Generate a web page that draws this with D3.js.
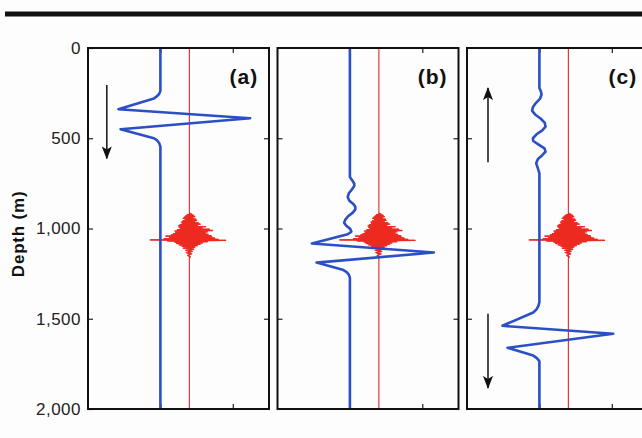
<!DOCTYPE html>
<html>
<head>
<meta charset="utf-8">
<script src="https://cdn.jsdelivr.net/npm/d3@7"></script>
<style>
body { margin: 0; background: #fff; }
svg { display: block; font-family: "Liberation Sans", Arial, Helvetica, sans-serif; }
</style>
</head>
<body>
<svg id="chart" width="642" height="438"></svg>
<script>
// ============================== DATA ==============================
const panelLabels = ["(a)", "(b)", "(c)"];
const depthTicks = [0, 500, 1000, 1500, 2000];
const ampTicks = [2, 4];

// trace offsets (amplitude units)
const blueBase = 2;
const redBase = 2.8;

// blue traces: [depth (m), amplitude]
const blueA = [[0,0],[238,0],[256,-0.04],[268,-0.1],[280,-0.18],[339,-1.16],[389,2.48],[450,-1.1],
  [500,-0.18],[512,-0.09],[528,-0.03],[548,0],[2000,0]];

const blueB = [[0,0],[715,0],[738,0.08],[752,0.12],[765,0.12],[785,0.05],[805,-0.03],[826,-0.06],
  [845,-0.02],[866,0.1],[880,0.15],[894,0.15],[912,0.08],[932,-0.05],[952,-0.13],[968,-0.16],
  [985,-0.1],[1002,0.01],[1018,0.04],[1032,-0.06],[1083,-1.05],[1133,2.32],[1189,-0.92],
  [1228,-0.2],[1242,-0.09],[1256,-0.03],[1272,0],[2000,0]];

const blueC = [[0,0],[222,0],[240,0.04],[258,0.06],[280,0.02],[305,-0.1],[328,-0.18],[348,-0.2],
  [368,-0.12],[392,0.04],[415,0.15],[436,0.17],[456,0.08],[478,-0.08],[500,-0.18],[515,-0.17],
  [535,-0.02],[556,0.14],[574,0.17],[594,0.08],[615,-0.04],[638,-0.09],[662,-0.05],[695,0],
  [1408,0],[1430,-0.03],[1448,-0.08],[1465,-0.17],[1539,-1.02],[1583,2.04],[1661,-0.88],
  [1704,-0.17],[1718,-0.07],[1735,0],[2000,0]];

const blueTraces = [blueA, blueB, blueC];

// red trace: high frequency burst around 1,000 m (same in every panel)
const redBurst = [[915,0],[920,0.05],[923,-0.06],[927,0.12],[930,-0.1],[934,0.15],[937,-0.14],
  [941,0.1],[944,-0.17],[948,0.18],[951,-0.12],[955,0.2],[958,-0.18],[962,0.15],[965,-0.22],
  [969,0.25],[972,-0.2],[976,0.3],[979,-0.26],[983,0.22],[986,-0.3],[990,0.45],[993,-0.28],
  [997,0.35],[1000,-0.25],[1004,0.55],[1007,-0.33],[1011,0.64],[1014,-0.4],[1018,0.5],
  [1021,-0.38],[1025,0.45],[1028,-0.44],[1032,0.52],[1035,-0.5],[1039,0.6],[1042,-0.65],
  [1046,0.62],[1049,-0.55],[1053,0.7],[1056,-0.7],[1060,0.8],[1063,-1.08],[1066,1.0],
  [1069,-0.6],[1073,0.5],[1076,-0.4],[1080,0.36],[1083,-0.35],[1087,0.3],[1091,-0.28],
  [1095,0.22],[1099,-0.2],[1104,0.15],[1109,-0.17],[1115,0.12],[1121,-0.1],[1127,0.08],
  [1134,-0.07],[1141,0.05],[1149,-0.04],[1157,0.02],[1165,0]];
const redTrace = [[0,0]].concat(redBurst, [[2000,0]]);

// direction arrows: panel index, amplitude position, depth from -> to
const arrows = [
  { panel: 0, amp: 0.52, from: 205, to: 612 },
  { panel: 2, amp: 0.58, from: 633, to: 222 },
  { panel: 2, amp: 0.58, from: 1472, to: 1883 }
];
// ==================================================================

var svg = d3.select("#chart");
var plotTop = 48, plotBottom = 409;
var panelW = 181, firstLeft = 88, step = 189.5;

svg.append("rect").attr("width", 642).attr("height", 438).attr("fill", "#fdfdfd");

// heavy rule at the top of the page
svg.append("line")
  .attr("x1", 5).attr("x2", 642).attr("y1", 14).attr("y2", 14)
  .attr("stroke", "#111").attr("stroke-width", 5);

svg.append("defs").append("marker")
  .attr("id", "head")
  .attr("viewBox", "0 0 13 10")
  .attr("refX", 12).attr("refY", 5)
  .attr("markerWidth", 13).attr("markerHeight", 10)
  .attr("markerUnits", "userSpaceOnUse")
  .attr("orient", "auto")
  .append("path").attr("d", "M0,0 L13,5 L0,10 L3,5 Z").attr("fill", "#111");

const ys = d3.scaleLinear().domain([0, 2000]).range([plotTop, plotBottom]);

function panelScale(i) {
  var left = firstLeft + i * step;
  return d3.scaleLinear().domain([0, 5]).range([left, left + panelW]);
}

panelLabels.forEach(function(label, i) {
  var xs = panelScale(i);
  var left = xs.range()[0], right = xs.range()[1];
  var g = svg.append("g");

  // ---------- ticks ----------
  var yl = d3.axisLeft(ys).tickValues(i === 0 ? depthTicks : depthTicks.slice(1, 4))
    .tickSize(-5).tickPadding(7).tickFormat(i === 0 ? d3.format(",") : "");
  g.append("g").attr("transform", "translate(" + left + ",0)").call(yl);
  g.append("g").attr("transform", "translate(" + right + ",0)")
    .call(d3.axisRight(ys).tickValues(depthTicks.slice(1, 4)).tickSize(-5).tickFormat(""));
  g.append("g").attr("transform", "translate(0," + plotTop + ")")
    .call(d3.axisTop(xs).tickValues(ampTicks).tickSize(-5).tickFormat(""));
  g.append("g").attr("transform", "translate(0," + plotBottom + ")")
    .call(d3.axisBottom(xs).tickValues(ampTicks).tickSize(-5).tickFormat(""));
  g.selectAll(".domain").remove();
  g.selectAll(".tick line").attr("stroke", "#222").attr("stroke-width", 1.2);
  g.selectAll(".tick text").attr("font-size", 17).attr("letter-spacing", 0.5)
    .attr("fill", "#222").attr("font-family", "Liberation Sans, Arial, sans-serif");

  // ---------- traces ----------
  g.append("path").datum(redTrace)
    .attr("fill", "none").attr("stroke", "#e2262a").attr("stroke-width", 1.1)
    .attr("d", d3.line().x(d => xs(d[1] + redBase)).y(d => ys(d[0])));
  // heavier redraw of the burst itself
  g.append("path").datum(redBurst)
    .attr("fill", "none").attr("stroke", "#ec2a1f").attr("stroke-width", 1.3)
    .attr("stroke-linejoin", "round")
    .attr("d", d3.line().x(d => xs(d[1] + redBase)).y(d => ys(d[0])));

  g.append("path").datum(blueTraces[i])
    .attr("fill", "none").attr("stroke", "#2b4fc4").attr("stroke-width", 2.6)
    .attr("stroke-linejoin", "round")
    .attr("d", d3.line().x(d => xs(d[1] + blueBase)).y(d => ys(d[0])));

  // ---------- frame ----------
  g.append("rect")
    .attr("x", left).attr("y", plotTop).attr("width", panelW).attr("height", plotBottom - plotTop)
    .attr("fill", "none").attr("stroke", "#111").attr("stroke-width", 2);

  // ---------- panel label ----------
  g.append("text")
    .attr("x", xs(4.7)).attr("y", ys(200))
    .attr("text-anchor", "end")
    .attr("font-size", 21).attr("font-weight", "bold").attr("letter-spacing", 1)
    .attr("fill", "#111")
    .text(label);
});

// ---------- arrows ----------
arrows.forEach(function(a) {
  var xs = panelScale(a.panel);
  svg.append("line")
    .attr("x1", xs(a.amp)).attr("x2", xs(a.amp))
    .attr("y1", ys(a.from)).attr("y2", ys(a.to))
    .attr("stroke", "#111").attr("stroke-width", 1.5)
    .attr("marker-end", "url(#head)");
});

// ---------- axis title ----------
svg.append("text")
  .attr("transform", "translate(24," + ys(1030) + ") rotate(-90)")
  .attr("text-anchor", "middle")
  .attr("font-size", 17).attr("font-weight", "bold").attr("letter-spacing", 0.8)
  .attr("fill", "#111")
  .text("Depth (m)");
</script>
</body>
</html>
